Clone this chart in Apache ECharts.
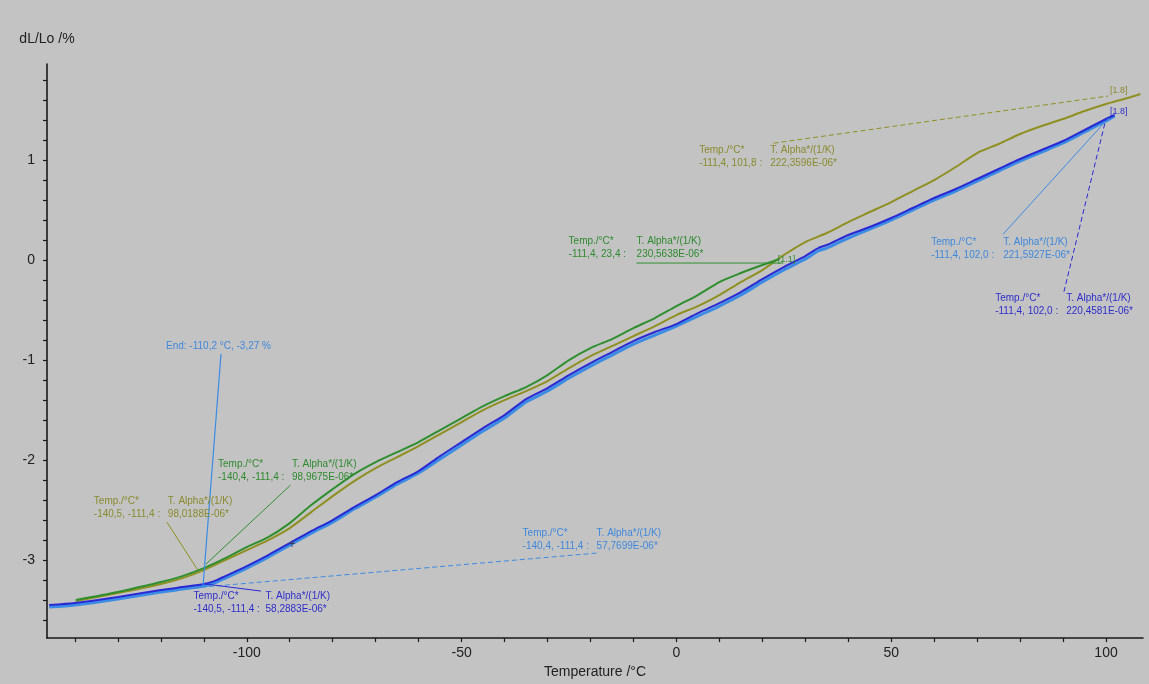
<!DOCTYPE html>
<html>
<head>
<meta charset="utf-8">
<script src="https://cdn.jsdelivr.net/npm/echarts@6/dist/echarts.min.js"></script>
<style>
  html, body { margin: 0; padding: 0; background: #c3c3c3; }
  #chart { width: 1149px; height: 684px; }
</style>
</head>
<body>
<div id="chart"></div>
<script>
// Dilatometer runs: relative length change dL/Lo (%) against temperature (°C)
const oliveRun = [
  [-139.8, -3.41], [-130, -3.33], [-120, -3.24], [-115, -3.18], [-110, -3.10],
  [-105, -3.00], [-100, -2.90], [-95, -2.80], [-90, -2.68], [-85, -2.52],
  [-80, -2.36], [-75, -2.21], [-70, -2.08], [-65, -1.97], [-60, -1.86],
  [-55, -1.74], [-50, -1.62], [-45, -1.50], [-40, -1.40], [-35, -1.31],
  [-30, -1.21], [-25, -1.08], [-20, -0.96], [-15, -0.86], [-10, -0.76],
  [-5, -0.66], [0, -0.55], [5, -0.46], [10, -0.35], [15, -0.22],
  [20, -0.10], [25, 0.05], [30, 0.18], [35, 0.27], [40, 0.38],
  [45, 0.48], [50, 0.58], [55, 0.69], [60, 0.80], [65, 0.93],
  [70, 1.07], [75, 1.16], [80, 1.26], [85, 1.34], [90, 1.41],
  [95, 1.49], [100, 1.56], [105, 1.62], [108, 1.66]
];
const greenRun = [
  [-139.8, -3.40], [-130, -3.32], [-125, -3.27], [-120, -3.22], [-115, -3.16],
  [-110, -3.08], [-105, -2.98], [-100, -2.87], [-95, -2.77], [-90, -2.63],
  [-85, -2.45], [-80, -2.29], [-75, -2.14], [-70, -2.02], [-65, -1.92],
  [-60, -1.82], [-55, -1.70], [-50, -1.58], [-45, -1.46], [-40, -1.36],
  [-35, -1.27], [-30, -1.15], [-25, -1.00], [-20, -0.88], [-15, -0.79],
  [-10, -0.68], [-5, -0.58], [0, -0.46], [5, -0.35], [10, -0.22],
  [15, -0.13], [20, -0.05], [24, 0.01]
];
const lightBlueRun = [
  [-146, -3.47], [-140, -3.45], [-130, -3.39], [-120, -3.32], [-115, -3.29],
  [-110, -3.26], [-107, -3.22], [-105, -3.18], [-100, -3.08], [-95, -2.97],
  [-90, -2.85], [-85, -2.73], [-80, -2.62], [-75, -2.49], [-70, -2.37],
  [-65, -2.24], [-60, -2.13], [-55, -1.99], [-50, -1.85], [-45, -1.71],
  [-40, -1.58], [-35, -1.42], [-30, -1.31], [-25, -1.18], [-20, -1.06],
  [-15, -0.95], [-10, -0.84], [-5, -0.75], [0, -0.66], [5, -0.56],
  [10, -0.46], [15, -0.35], [20, -0.22], [25, -0.10], [30, 0.01],
  [33, 0.09], [35, 0.12], [40, 0.22], [45, 0.31], [50, 0.40],
  [55, 0.50], [60, 0.60], [65, 0.69], [70, 0.79], [75, 0.89],
  [80, 0.99], [85, 1.08], [90, 1.17], [95, 1.28], [100, 1.39], [102, 1.44]
];
const darkBlueRun = [
  [-146, -3.45], [-140, -3.43], [-130, -3.37], [-120, -3.30], [-115, -3.27],
  [-110, -3.24], [-107, -3.20], [-105, -3.16], [-100, -3.06], [-95, -2.95],
  [-90, -2.83], [-85, -2.71], [-80, -2.60], [-75, -2.47], [-70, -2.35],
  [-65, -2.22], [-60, -2.11], [-55, -1.96], [-50, -1.82], [-45, -1.68],
  [-40, -1.55], [-35, -1.39], [-30, -1.28], [-25, -1.15], [-20, -1.03],
  [-15, -0.92], [-10, -0.81], [-5, -0.72], [0, -0.64], [5, -0.53],
  [10, -0.43], [15, -0.32], [20, -0.19], [25, -0.07], [30, 0.04],
  [33, 0.12], [35, 0.15], [40, 0.25], [45, 0.33], [50, 0.42],
  [55, 0.52], [60, 0.62], [65, 0.71], [70, 0.81], [75, 0.91],
  [80, 1.01], [85, 1.10], [90, 1.19], [95, 1.30], [100, 1.41], [102, 1.45]
];

// Axis ticks and labels
const xTickValues = [-140, -130, -120, -110, -100, -90, -80, -70, -60, -50, -40, -30, -20, -10,
  0, 10, 20, 30, 40, 50, 60, 70, 80, 90, 100];
const xLabelValues = [-100, -50, 0, 50, 100];
const yTickValues = [-3.6, -3.4, -3.2, -3, -2.8, -2.6, -2.4, -2.2, -2, -1.8, -1.6, -1.4, -1.2,
  -1, -0.8, -0.6, -0.4, -0.2, 0, 0.2, 0.4, 0.6, 0.8, 1, 1.2, 1.4, 1.6, 1.8];
const yLabelValues = [-3, -2, -1, 0, 1];

// Evaluation results (slope + onset), placed in data units
const evalHead = ['Temp./°C*', 'T. Alpha*/(1/K)'];
const COLORS = {
  olive: '#8f8f22', green: '#2f8f2f', light: '#3b8ce4', dark: '#2a2ad4',
  oliveText: '#8a8a30', greenText: '#2e8a2e', lightText: '#3f88dc', darkText: '#2e2ecc'
};
const evaluations = [
  { c: 'olive', at: [5.3, 1.15], gap: 71, rows: ['-111,4, 101,8 :', '222,3596E-06*'],
    from: [22.6, 1.168], to: [100.5, 1.64], dash: true, tag: '[1.8]', tagAt: [100.9, 1.74] },
  { c: 'green', at: [-25.1, 0.24], gap: 68, rows: ['-111,4, 23,4 :', '230,5638E-06*'],
    from: [-9.3, -0.03], to: [24.9, -0.03], dash: false, tag: '[1.1]', tagAt: [23.6, 0.05] },
  { c: 'light', at: [59.3, 0.23], gap: 72, rows: ['-111,4, 102,0 :', '221,5927E-06*'],
    from: [76.0, 0.257], to: [100.5, 1.416], dash: false },
  { c: 'dark', at: [74.2, -0.33], gap: 71, rows: ['-111,4, 102,0 :', '220,4581E-06*'],
    from: [90.2, -0.317], to: [100.0, 1.416], dash: true, tag: '[1.8]', tagAt: [100.9, 1.53] },
  { c: 'green', at: [-106.7, -1.99], gap: 74, rows: ['-140,4, -111,4 :', '98,9675E-06*'],
    from: [-89.8, -2.25], to: [-109.5, -3.04], dash: false },
  { c: 'olive', at: [-135.6, -2.36], gap: 74, rows: ['-140,5, -111,4 :', '98,0188E-06*'],
    from: [-118.6, -2.62], to: [-111.4, -3.10], dash: false },
  { c: 'light', at: [-35.8, -2.68], gap: 74, rows: ['-140,4, -111,4 :', '57,7699E-06*'],
    from: [-18.6, -2.93], to: [-110.2, -3.27], dash: true },
  { c: 'dark', at: [-112.4, -3.31], gap: 72, rows: ['-140,5, -111,4 :', '58,2883E-06*'],
    from: [-109.5, -3.24], to: [-96.7, -3.31], dash: false }
];
const onsetText = 'End: -110,2 °C, -3,27 %';
const onsetLabelAt = [-118.8, -0.81];
const onsetFrom = [-106.0, -0.94];
const onsetPoint = [-110.2, -3.27];
const cursorAt = [-89.5, -2.85];

const chart = echarts.init(document.getElementById('chart'), null, { renderer: 'canvas' });
const FONT = '"Liberation Sans", Arial, sans-serif';

function lineSeries(name, data, color, width, z) {
  return {
    name, type: 'line', data, showSymbol: false, smooth: 0.25, z,
    lineStyle: { color, width }, animation: false
  };
}

chart.setOption({
  backgroundColor: '#c3c3c3',
  animation: false,
  grid: { left: 47, right: 6, top: 64, bottom: 40 },
  xAxis: {
    type: 'value', min: -146.5, max: 108.6,
    name: 'Temperature /°C', nameLocation: 'middle', nameGap: 26,
    nameTextStyle: { color: '#222', fontFamily: FONT, fontSize: 14 },
    axisLine: { show: true, onZero: false, lineStyle: { color: '#1a1a1a', width: 1.6 } },
    axisTick: { show: true, length: 4, customValues: xTickValues, lineStyle: { color: '#1a1a1a', width: 1.2 } },
    axisLabel: { customValues: xLabelValues, color: '#222', fontFamily: FONT, fontSize: 14, margin: 8 },
    splitLine: { show: false }
  },
  yAxis: {
    type: 'value', min: -3.78, max: 1.96,
    name: 'dL/Lo /%', nameLocation: 'end', nameGap: 18,
    nameTextStyle: { color: '#222', fontFamily: FONT, fontSize: 14 },
    axisLine: { show: true, onZero: false, lineStyle: { color: '#1a1a1a', width: 1.6 } },
    axisTick: { show: true, length: 4, customValues: yTickValues, lineStyle: { color: '#1a1a1a', width: 1.2 } },
    axisLabel: { customValues: yLabelValues, color: '#222', fontFamily: FONT, fontSize: 14, margin: 12 },
    splitLine: { show: false }
  },
  series: [
    lineSeries('olive', oliveRun, COLORS.olive, 2, 2),
    lineSeries('green', greenRun, COLORS.green, 2, 3),
    lineSeries('lightBlue', lightBlueRun, COLORS.light, 3, 4),
    lineSeries('darkBlue', darkBlueRun, COLORS.dark, 2, 5)
  ]
});

// Evaluation annotations: leader lines and result texts
function px(p) { return chart.convertToPixel({ gridIndex: 0 }, p); }
function text(p, str, fill, size) {
  return { type: 'text', x: p[0], y: p[1], z: 20,
    style: { text: str, fill, font: (size || 10) + 'px ' + FONT, textVerticalAlign: 'top' } };
}
function seg(a, b, stroke, dash, w) {
  return { type: 'line', z: 10,
    shape: { x1: a[0], y1: a[1], x2: b[0], y2: b[1] },
    style: { stroke, lineWidth: w || 1, lineDash: dash ? [5, 3] : null } };
}

const elements = [];
evaluations.forEach(e => {
  const col = COLORS[e.c], tcol = COLORS[e.c + 'Text'];
  const p = px(e.at);
  elements.push(text([p[0], p[1]], evalHead[0], tcol));
  elements.push(text([p[0] + e.gap, p[1]], evalHead[1], tcol));
  elements.push(text([p[0], p[1] + 13], e.rows[0], tcol));
  elements.push(text([p[0] + e.gap, p[1] + 13], e.rows[1], tcol));
  elements.push(seg(px(e.from), px(e.to), col, e.dash));
  if (e.tag) elements.push(text(px(e.tagAt), e.tag, tcol, 9));
});
elements.push(text(px(onsetLabelAt), onsetText, COLORS.lightText));
elements.push(seg(px(onsetFrom), px(onsetPoint), COLORS.light, false, 1.2));
const cp = px(cursorAt);
elements.push({ type: 'text', x: cp[0], y: cp[1], z: 20,
  style: { text: '+', fill: '#3a3a5a', font: '12px ' + FONT, align: 'center', verticalAlign: 'middle' } });

chart.setOption({ graphic: { elements } });
</script>
</body>
</html>
